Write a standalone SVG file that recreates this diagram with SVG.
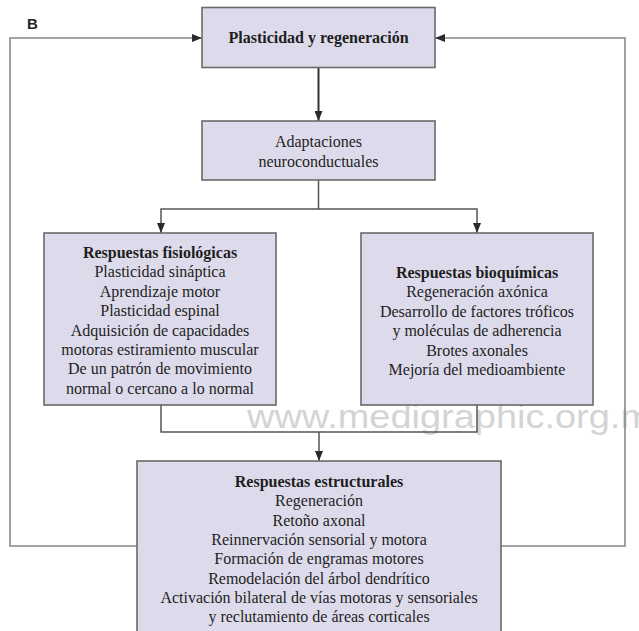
<svg xmlns="http://www.w3.org/2000/svg" width="639" height="631" viewBox="0 0 639 631">
  <style>
    .box { fill: #dddbeb; stroke: #6a6a6a; stroke-width: 1.6; }
    .t { font-family: "Liberation Serif", "Times New Roman", serif; font-size: 16px; fill: #1e1e1e; text-anchor: middle; }
    .b { font-weight: bold; }
    .conn { fill: none; stroke: #555; stroke-width: 1.5; }
    .loop { fill: none; stroke: #888; stroke-width: 1.6; }
    .main { fill: none; stroke: #333; stroke-width: 2; }
    .wm { font-family: "Liberation Sans", Arial, sans-serif; font-size: 34px; fill: #d4d4d4; }
  </style>
  <defs>
    <marker id="ah" viewBox="0 0 10 8" refX="10" refY="4" markerWidth="10" markerHeight="8" markerUnits="userSpaceOnUse" orient="auto">
      <path d="M0,0 L10,4 L0,8 Z" fill="#2a2a2a"/>
    </marker>
  </defs>
  <rect width="639" height="631" fill="#ffffff"/>
  <text x="27" y="28.5" font-family="Liberation Sans, Arial, sans-serif" font-size="15" font-weight="bold" fill="#222">B</text>

  <text class="wm" x="247" y="428" textLength="405" lengthAdjust="spacingAndGlyphs">www.medigraphic.org.m</text>

  <g id="connectors">
    <path class="main" d="M318.5,67 V121" marker-end="url(#ah)"/>
    <path class="conn" d="M318.5,180 V209 H161 V233" marker-end="url(#ah)"/>
    <path class="conn" d="M318.5,209 H477 V233" marker-end="url(#ah)"/>
    <path class="conn" d="M161,405 V432 H477 V405"/>
    <path class="conn" d="M319,432 V461" marker-end="url(#ah)"/>
    <path class="loop" d="M137,546 H10 V38 H202" marker-end="url(#ah)"/>
    <path class="loop" d="M501,546 H625 V38 H435" marker-end="url(#ah)"/>
  </g>

  <g id="plasticidad">
    <rect class="box" x="202" y="7.5" width="233" height="60"/>
    <text class="t b" x="318.5" y="43">Plasticidad y regeneración</text>
  </g>

  <g id="adaptaciones">
    <rect class="box" x="202" y="121" width="233" height="59"/>
    <text class="t" x="318.5" y="147">Adaptaciones</text>
    <text class="t" x="318.5" y="167">neuroconductuales</text>
  </g>

  <g id="fisiologicas">
    <rect class="box" x="44" y="233" width="232" height="172"/>
    <text class="t b" x="160" y="258">Respuestas fisiológicas</text>
    <text class="t" x="160" y="277.4">Plasticidad sináptica</text>
    <text class="t" x="160" y="296.8">Aprendizaje motor</text>
    <text class="t" x="160" y="316.2">Plasticidad espinal</text>
    <text class="t" x="160" y="335.6">Adquisición de capacidades</text>
    <text class="t" x="160" y="355">motoras estiramiento muscular</text>
    <text class="t" x="160" y="374.4">De un patrón de movimiento</text>
    <text class="t" x="160" y="393.8">normal o cercano a lo normal</text>
  </g>

  <g id="bioquimicas">
    <rect class="box" x="361" y="233" width="232" height="172"/>
    <text class="t b" x="477" y="278">Respuestas bioquímicas</text>
    <text class="t" x="477" y="297.4">Regeneración axónica</text>
    <text class="t" x="477" y="316.8">Desarrollo de factores tróficos</text>
    <text class="t" x="477" y="336.2">y moléculas de adherencia</text>
    <text class="t" x="477" y="355.6">Brotes axonales</text>
    <text class="t" x="477" y="375">Mejoría del medioambiente</text>
  </g>

  <g id="estructurales">
    <rect class="box" x="137" y="461" width="364" height="185"/>
    <text class="t b" x="319" y="487">Respuestas estructurales</text>
    <text class="t" x="319" y="506.3">Regeneración</text>
    <text class="t" x="319" y="525.6">Retoño axonal</text>
    <text class="t" x="319" y="544.9">Reinnervación sensorial y motora</text>
    <text class="t" x="319" y="564.2">Formación de engramas motores</text>
    <text class="t" x="319" y="583.5">Remodelación del árbol dendrítico</text>
    <text class="t" x="319" y="602.8">Activación bilateral de vías motoras y sensoriales</text>
    <text class="t" x="319" y="622.1">y reclutamiento de áreas corticales</text>
  </g>
</svg>
